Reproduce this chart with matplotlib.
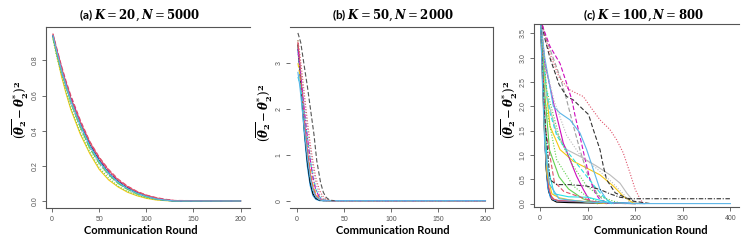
import matplotlib
matplotlib.use('Agg')
import matplotlib.pyplot as plt

plt.rcParams['mathtext.fontset'] = 'dejavuserif'

# ---- panel (a): K=20, N=5000 ----
xa = [1, 5, 10, 15, 20, 25, 30, 40, 50, 60, 70, 80, 90, 100, 110, 120, 130, 200]
ya = [
    [0.93, 0.83, 0.71, 0.61, 0.52, 0.45, 0.38, 0.27, 0.18, 0.12, 0.08, 0.05, 0.03, 0.015, 0.006, 0.002, 0, 0],
    [0.92, 0.82, 0.72, 0.62, 0.53, 0.46, 0.39, 0.28, 0.19, 0.13, 0.085, 0.055, 0.033, 0.018, 0.008, 0.003, 0, 0],
    [0.94, 0.84, 0.73, 0.64, 0.55, 0.48, 0.41, 0.30, 0.21, 0.145, 0.10, 0.065, 0.04, 0.022, 0.01, 0.004, 0, 0],
    [0.95, 0.87, 0.77, 0.68, 0.60, 0.53, 0.46, 0.34, 0.25, 0.18, 0.125, 0.085, 0.055, 0.034, 0.02, 0.01, 0.003, 0],
    [0.94, 0.86, 0.76, 0.67, 0.59, 0.52, 0.45, 0.33, 0.24, 0.17, 0.115, 0.078, 0.05, 0.03, 0.016, 0.007, 0.001, 0],
    [0.94, 0.85, 0.75, 0.66, 0.58, 0.51, 0.44, 0.32, 0.23, 0.16, 0.11, 0.073, 0.047, 0.027, 0.013, 0.005, 0, 0],
    [0.94, 0.85, 0.74, 0.65, 0.57, 0.50, 0.43, 0.315, 0.225, 0.157, 0.107, 0.07, 0.044, 0.025, 0.012, 0.004, 0, 0],
    [0.93, 0.84, 0.74, 0.65, 0.56, 0.49, 0.42, 0.30, 0.215, 0.15, 0.10, 0.066, 0.041, 0.023, 0.011, 0.004, 0, 0],
    [0.95, 0.86, 0.76, 0.67, 0.585, 0.515, 0.45, 0.335, 0.245, 0.175, 0.12, 0.082, 0.053, 0.032, 0.018, 0.008, 0.002, 0],
    [0.94, 0.85, 0.745, 0.655, 0.57, 0.50, 0.435, 0.315, 0.225, 0.158, 0.108, 0.071, 0.045, 0.026, 0.012, 0.005, 0, 0],
]

# ---- panel (b): K=50, N=2000 ----
xb = [1, 3, 5, 8, 11, 14, 17, 20, 24, 28, 32, 36, 40, 200]
yb = [
    [3.3, 2.8, 2.2, 1.4, 0.75, 0.33, 0.11, 0.03, 0, 0, 0, 0, 0, 0],
    [3.4, 2.9, 2.3, 1.5, 0.85, 0.40, 0.15, 0.05, 0.01, 0, 0, 0, 0, 0],
    [3.5, 3.0, 2.45, 1.65, 1.0, 0.52, 0.22, 0.08, 0.02, 0, 0, 0, 0, 0],
    [3.0, 2.75, 2.4, 1.8, 1.2, 0.7, 0.35, 0.15, 0.04, 0.01, 0, 0, 0, 0],
    [3.45, 3.0, 2.5, 1.75, 1.1, 0.6, 0.28, 0.11, 0.03, 0.005, 0, 0, 0, 0],
    [2.7, 2.55, 2.3, 1.85, 1.35, 0.9, 0.52, 0.25, 0.08, 0.02, 0, 0, 0, 0],
    [3.5, 3.2, 2.85, 2.3, 1.75, 1.25, 0.85, 0.5, 0.22, 0.08, 0.02, 0, 0, 0],
    [3.3, 2.95, 2.55, 1.95, 1.4, 0.9, 0.5, 0.23, 0.07, 0.01, 0, 0, 0, 0],
    [3.2, 2.95, 2.65, 2.15, 1.6, 1.1, 0.7, 0.38, 0.14, 0.04, 0.01, 0, 0, 0],
    [2.8, 2.5, 2.1, 1.5, 0.95, 0.5, 0.22, 0.08, 0.02, 0, 0, 0, 0, 0],
]
xb_slow = [1, 4, 8, 11, 14, 18, 21, 25, 28, 31, 35, 40]
yb_slow = [3.66, 3.45, 2.9, 2.5, 2.05, 1.45, 0.87, 0.4, 0.18, 0.07, 0.01, 0]

# ---- panel (c): K=100, N=800 ----
xc = [
    [1, 5, 10, 15, 20, 30, 40, 60, 100, 150, 200],
    [1, 5, 9, 13, 18, 25, 35, 60, 120, 200],
    [1, 4, 8, 12, 16, 22, 30, 50, 100, 160, 220],
    [1, 6, 12, 18, 25, 40, 80, 120, 150, 180],
    [1, 10, 21, 42, 70, 98, 126, 154, 175, 196, 210],
    [1, 8, 15, 25, 40, 60, 100, 140],
    [1, 8, 14, 35, 56, 84, 119, 147, 168, 182, 196, 205],
    [1, 14, 42, 56, 70, 84, 100, 120, 140],
    [1, 10, 21, 40, 56, 70, 91, 102, 112, 126, 133, 140, 158, 196, 232],
    [1, 7, 20, 40, 60, 80, 91, 105, 126, 147, 161, 175, 189, 200, 211, 218],
    [1, 7, 21, 42, 56, 67, 74, 84, 95, 105, 116, 126, 147],
    [1, 10, 30, 49, 63, 77, 91, 105, 120],
    [1, 10, 28, 42, 63, 84, 98, 112, 126, 140, 154],
    [1, 8, 20, 35, 55, 75, 95, 115, 135, 150],
    [1, 14, 42, 70, 98, 126, 154, 175],
    [1, 10, 35, 70, 98, 130],
    [1, 8, 20, 40, 60, 90, 120],
    [1, 10, 30, 56, 84, 119, 150, 175, 190],
    [1, 8, 15, 30, 60, 100, 130, 150],
    [1, 12, 30, 50, 80, 110, 140],
    [1, 8, 21, 35, 63, 98, 126, 147, 168, 190, 215, 400],
    [1, 5, 10, 20, 40, 100, 200, 400],
]
yc = [
    [3.8, 2.6, 1.3, 0.5, 0.2, 0.08, 0.05, 0.04, 0.03, 0.01, 0],
    [3.8, 2.9, 1.6, 0.7, 0.25, 0.08, 0.03, 0.02, 0.01, 0],
    [3.8, 3.0, 1.9, 0.9, 0.35, 0.12, 0.07, 0.05, 0.04, 0.02, 0],
    [3.8, 2.4, 1.0, 0.35, 0.1, 0.06, 0.05, 0.03, 0.01, 0],
    [3.8, 2.6, 1.59, 1.11, 0.87, 0.73, 0.59, 0.36, 0.15, 0.01, 0],
    [3.8, 1.8, 0.6, 0.2, 0.12, 0.08, 0.03, 0],
    [3.8, 3.1, 2.2, 1.45, 1.11, 0.97, 0.77, 0.59, 0.42, 0.22, 0.05, 0],
    [3.8, 3.36, 2.61, 2.13, 1.6, 1.1, 0.6, 0.2, 0],
    [3.8, 3.4, 2.99, 2.45, 2.2, 2.13, 1.93, 1.83, 1.52, 1.11, 0.77, 0.49, 0.22, 0.05, 0],
    [3.8, 3.6, 3.1, 2.6, 2.35, 2.25, 2.2, 2.0, 1.72, 1.52, 1.31, 1.04, 0.63, 0.29, 0.08, 0],
    [3.8, 3.6, 3.23, 2.88, 2.47, 2.13, 1.79, 1.38, 0.9, 0.49, 0.22, 0.08, 0],
    [3.8, 2.9, 2.0, 1.24, 0.9, 0.56, 0.29, 0.05, 0],
    [3.8, 3.0, 2.0, 1.86, 1.72, 1.45, 1.11, 0.7, 0.29, 0.08, 0],
    [3.8, 2.8, 1.9, 1.4, 1.1, 0.85, 0.6, 0.35, 0.12, 0],
    [3.8, 2.34, 1.31, 0.77, 0.36, 0.15, 0.05, 0],
    [3.8, 2.13, 0.9, 0.36, 0.15, 0],
    [3.8, 2.5, 1.1, 0.55, 0.3, 0.1, 0],
    [3.8, 2.9, 2.1, 1.4, 1.0, 0.72, 0.45, 0.2, 0],
    [3.8, 2.2, 0.8, 0.2, 0.14, 0.13, 0.06, 0],
    [3.8, 1.5, 0.45, 0.25, 0.15, 0.05, 0],
    [3.8, 2.0, 0.49, 0.39, 0.39, 0.36, 0.29, 0.2, 0.13, 0.1, 0.1, 0.1],
    [3.8, 2.5, 1.2, 0.4, 0.1, 0.03, 0, 0],
]

# matplot-like line types (solid, dashed, dotted, dotdash, longdash)
ltys = ['-', (0, (4, 2)), (0, (1, 1.5)), (0, (1, 1.5, 4, 1.5)), (0, (7, 2))]

color_a = ['#F5C710', '#61D04F', '#9E9E9E', '#DF536B', '#CD0BBC', '#000000', '#2297E6', '#61D04F', '#DF536B', '#5BB5E8']
lty_a = [0, 2, 2, 1, 3, 0, 0, 4, 0, 0]
color_b = ['#2297E6', '#000000', '#61D04F', '#F5C710', '#DF536B', '#28E2E5', '#DF536B', '#CD0BBC', '#9E9E9E', '#5BB5E8']
lty_b = [0, 0, 2, 1, 0, 1, 2, 3, 2, 0]
color_c = ['#DF536B', '#000000', '#2297E6', '#DF536B', '#F5C710', '#F5C710', '#BBBBBB', '#9E9E9E',
           '#333333', '#DF536B', '#CD0BBC', '#CD0BBC', '#5BB5E8', '#28E2E5', '#61D04F', '#61D04F',
           '#61D04F', '#BBBBBB', '#28E2E5', '#DF536B', '#333333', '#5BB5E8']
lty_c = [0, 0, 0, 0, 0, 0, 0, 1, 1, 2, 1, 0, 0, 1, 2, 2, 0, 2, 0, 1, 3, 0]

W, H = 747, 241
fig = plt.figure(figsize=(W / 100, H / 100), dpi=100)


def px_axes(l, t, r, b):
    return fig.add_axes([l / W, 1 - b / H, (r - l) / W, (b - t) / H])


def style(ax, xticks, yticks, ylabels, spines):
    for s in ['left', 'right', 'top', 'bottom']:
        ax.spines[s].set_visible(s in spines)
        ax.spines[s].set_color('#555555')
        ax.spines[s].set_linewidth(0.8)
    ax.set_xticks(xticks)
    ax.set_xticklabels([str(t) for t in xticks], fontsize=5, color='#555555',
                       family='Liberation Sans')
    ax.set_yticks(yticks)
    ax.set_yticklabels(ylabels, fontsize=5, color='#555555', rotation=90,
                       va='center', family='Liberation Sans')
    ax.tick_params(length=3, width=0.6, color='#555555', pad=2.5)


# (a)
ax = px_axes(46, 27, 250, 208)
for i, y in enumerate(ya):
    ax.plot(xa, y, color=color_a[i], ls=ltys[lty_a[i]], lw=0.8)
ax.set_xlim(-6.4, 210)
ax.set_ylim(-0.04, 0.99)
style(ax, [0, 50, 100, 150, 200], [0, 0.2, 0.4, 0.6, 0.8], ['0.0', '0.2', '0.4', '0.6', '0.8'],
      ['left', 'top', 'bottom'])

# (b)
ax = px_axes(290, 27, 493, 208)
for i, y in enumerate(yb):
    ax.plot(xb, y, color=color_b[i], ls=ltys[lty_b[i]], lw=0.8)
ax.plot(xb_slow, yb_slow, color='#555555', ls=ltys[1], lw=0.8)
ax.set_xlim(-7.4, 208)
ax.set_ylim(-0.16, 3.79)
style(ax, [0, 50, 100, 150, 200], [0, 1, 2, 3], ['0', '1', '2', '3'],
      ['right', 'top', 'bottom'])

# (c)
ax = px_axes(534, 24, 739, 207)
for i in range(len(xc)):
    ax.plot(xc[i], yc[i], color=color_c[i], ls=ltys[lty_c[i]], lw=0.8)
ax.set_xlim(-12.6, 418)
ax.set_ylim(-0.07, 3.69)
style(ax, [0, 100, 200, 300, 400], [0, 0.5, 1, 1.5, 2, 2.5, 3, 3.5],
      ['0.0', '0.5', '1.0', '1.5', '2.0', '2.5', '3.0', '3.5'],
      ['left', 'top', 'bottom'])

titles = [r'(a) $\mathbfit{K}=\mathbf{20},\mathbfit{N}=\mathbf{5000}$',
          r'(b) $\mathbfit{K}=\mathbf{50},\mathbfit{N}=\mathbf{2000}$',
          r'(c) $\mathbfit{K}=\mathbf{100},\mathbfit{N}=\mathbf{800}$']
title_x = [140, 393, 643]
xlab_x = [141, 393, 651]
ylab_pos = [(21, 110), (265, 113), (510, 110)]
ylab = r'$(\overline{\mathbfit{\theta}_{\mathbf{2}}}-\mathbfit{\theta}_{\mathbf{2}}^{*})^{\mathbf{2}}$'

for i in range(3):
    fig.text(title_x[i] / W, 1 - 15 / H, titles[i], ha='center', va='center',
             fontsize=8.5, fontweight='bold', family='Lato')
    fig.text(xlab_x[i] / W, 1 - 231 / H, 'Communication Round', ha='center', va='center',
             fontsize=8, fontweight='bold', family='Lato')
    fig.text(ylab_pos[i][0] / W, 1 - ylab_pos[i][1] / H, ylab, ha='center', va='center',
             rotation=90, fontsize=8.5)

fig.savefig('out.png', dpi=100)
